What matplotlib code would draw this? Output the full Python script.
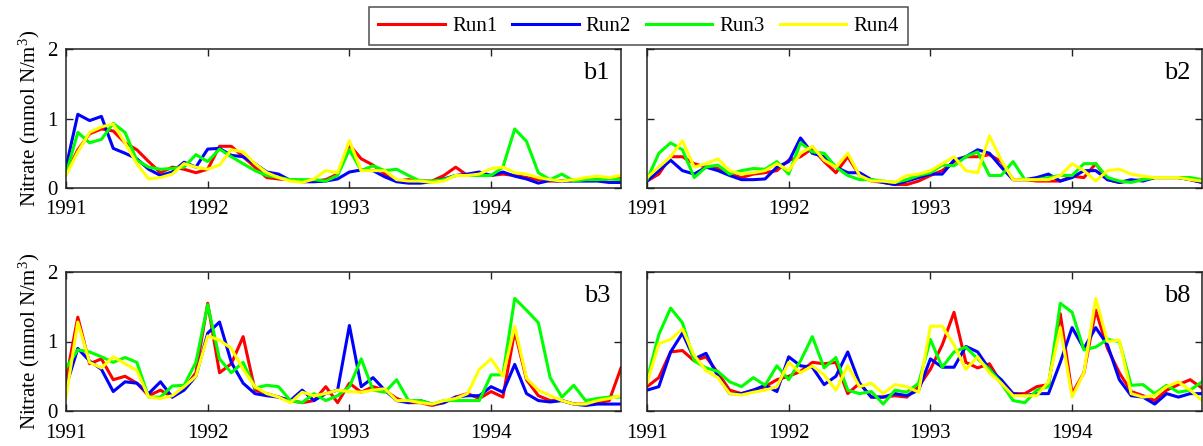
import matplotlib
matplotlib.use('Agg')
import matplotlib.pyplot as plt
import numpy as np

plt.rcParams['font.family'] = ['Liberation Serif', 'DejaVu Serif']
plt.rcParams['mathtext.fontset'] = 'custom'
plt.rcParams['mathtext.rm'] = 'Liberation Serif'
plt.rcParams['mathtext.it'] = 'Liberation Serif:italic'
plt.rcParams['font.size'] = 15

# monthly values, Jan 1991 - Dec 1994
years = [1991, 1992, 1993, 1994]
runs = ['Run1', 'Run2', 'Run3', 'Run4']
colors = ['#ff0000', '#0000ff', '#00ff00', '#ffff00']

b1_run1 = [0.2, 0.55, 0.78, 0.85, 0.82, 0.65, 0.55, 0.38, 0.22, 0.3, 0.27, 0.22,
           0.27, 0.6, 0.6, 0.45, 0.3, 0.15, 0.13, 0.12, 0.1, 0.1, 0.12, 0.2,
           0.62, 0.42, 0.33, 0.2, 0.1, 0.12, 0.1, 0.1, 0.18, 0.3, 0.18, 0.18,
           0.18, 0.2, 0.18, 0.15, 0.12, 0.1, 0.1, 0.12, 0.12, 0.12, 0.15, 0.15]
b1_run2 = [0.3, 1.06, 0.97, 1.03, 0.57, 0.5, 0.42, 0.27, 0.18, 0.23, 0.37, 0.3,
           0.56, 0.57, 0.47, 0.45, 0.35, 0.23, 0.2, 0.11, 0.09, 0.09, 0.1, 0.13,
           0.23, 0.26, 0.25, 0.16, 0.09, 0.07, 0.07, 0.09, 0.13, 0.18, 0.2, 0.23,
           0.18, 0.23, 0.17, 0.13, 0.07, 0.11, 0.1, 0.1, 0.1, 0.1, 0.08, 0.08]
b1_run3 = [0.2, 0.8, 0.65, 0.7, 0.93, 0.8, 0.4, 0.3, 0.27, 0.28, 0.3, 0.48,
           0.38, 0.56, 0.45, 0.35, 0.25, 0.18, 0.15, 0.12, 0.12, 0.12, 0.1, 0.18,
           0.55, 0.25, 0.32, 0.25, 0.27, 0.18, 0.1, 0.1, 0.12, 0.18, 0.18, 0.18,
           0.18, 0.3, 0.85, 0.67, 0.22, 0.12, 0.2, 0.1, 0.12, 0.12, 0.13, 0.12]
b1_run4 = [0.18, 0.52, 0.8, 0.88, 0.92, 0.65, 0.35, 0.13, 0.15, 0.2, 0.35, 0.3,
           0.27, 0.33, 0.55, 0.52, 0.35, 0.22, 0.15, 0.1, 0.08, 0.13, 0.25, 0.22,
           0.68, 0.25, 0.25, 0.25, 0.12, 0.1, 0.1, 0.08, 0.1, 0.18, 0.18, 0.2,
           0.28, 0.3, 0.22, 0.2, 0.15, 0.12, 0.1, 0.12, 0.15, 0.17, 0.15, 0.18]

b2_run1 = [0.1, 0.2, 0.45, 0.45, 0.35, 0.3, 0.28, 0.2, 0.15, 0.2, 0.22, 0.25,
           0.4, 0.45, 0.57, 0.38, 0.22, 0.45, 0.18, 0.1, 0.08, 0.05, 0.05, 0.1,
           0.18, 0.25, 0.38, 0.45, 0.45, 0.48, 0.38, 0.12, 0.12, 0.1, 0.1, 0.1,
           0.17, 0.15, 0.35, 0.12, 0.08, 0.1, 0.12, 0.15, 0.15, 0.15, 0.12, 0.08]
b2_run2 = [0.1, 0.25, 0.4, 0.25, 0.2, 0.3, 0.25, 0.18, 0.12, 0.12, 0.13, 0.3,
           0.38, 0.72, 0.5, 0.45, 0.3, 0.22, 0.22, 0.12, 0.08, 0.05, 0.1, 0.15,
           0.2, 0.2, 0.4, 0.45, 0.55, 0.5, 0.3, 0.12, 0.12, 0.15, 0.2, 0.1,
           0.15, 0.25, 0.25, 0.12, 0.08, 0.12, 0.1, 0.15, 0.15, 0.15, 0.12, 0.08]
b2_run3 = [0.12, 0.5, 0.65, 0.55, 0.15, 0.3, 0.33, 0.2, 0.25, 0.28, 0.27, 0.38,
           0.2, 0.65, 0.52, 0.5, 0.3, 0.18, 0.12, 0.12, 0.1, 0.08, 0.12, 0.18,
           0.22, 0.33, 0.32, 0.45, 0.52, 0.18, 0.18, 0.38, 0.12, 0.12, 0.15, 0.18,
           0.18, 0.35, 0.35, 0.15, 0.1, 0.08, 0.12, 0.15, 0.15, 0.15, 0.15, 0.12]
b2_run4 = [0.15, 0.3, 0.45, 0.68, 0.3, 0.35, 0.42, 0.25, 0.2, 0.22, 0.25, 0.35,
           0.25, 0.5, 0.6, 0.4, 0.3, 0.5, 0.18, 0.1, 0.1, 0.08, 0.18, 0.2,
           0.25, 0.35, 0.45, 0.25, 0.22, 0.75, 0.4, 0.12, 0.12, 0.12, 0.12, 0.18,
           0.35, 0.25, 0.1, 0.25, 0.27, 0.2, 0.17, 0.15, 0.15, 0.15, 0.12, 0.1]

b3_run1 = [0.45, 1.35, 0.68, 0.75, 0.45, 0.5, 0.4, 0.22, 0.3, 0.2, 0.32, 0.55,
           1.55, 0.55, 0.68, 1.07, 0.3, 0.25, 0.2, 0.15, 0.12, 0.15, 0.35, 0.12,
           0.4, 0.27, 0.35, 0.3, 0.18, 0.12, 0.12, 0.08, 0.12, 0.2, 0.25, 0.18,
           0.28, 0.2, 1.15, 0.45, 0.22, 0.15, 0.15, 0.1, 0.1, 0.12, 0.15, 0.62]
b3_run2 = [0.35, 0.9, 0.72, 0.6, 0.28, 0.42, 0.4, 0.25, 0.42, 0.2, 0.3, 0.5,
           1.12, 1.28, 0.7, 0.4, 0.25, 0.22, 0.2, 0.15, 0.3, 0.15, 0.25, 0.3,
           1.23, 0.35, 0.48, 0.3, 0.15, 0.12, 0.15, 0.1, 0.12, 0.2, 0.22, 0.22,
           0.35, 0.27, 0.67, 0.25, 0.15, 0.13, 0.15, 0.1, 0.08, 0.1, 0.1, 0.1]
b3_run3 = [0.62, 0.88, 0.85, 0.78, 0.7, 0.77, 0.7, 0.2, 0.2, 0.36, 0.37, 0.7,
           1.53, 0.75, 0.55, 0.7, 0.33, 0.37, 0.35, 0.15, 0.12, 0.25, 0.15, 0.22,
           0.35, 0.75, 0.3, 0.27, 0.45, 0.15, 0.15, 0.1, 0.15, 0.15, 0.15, 0.15,
           0.52, 0.52, 1.62, 1.45, 1.27, 0.48, 0.2, 0.37, 0.15, 0.18, 0.2, 0.2]
b3_run4 = [0.2, 1.28, 0.7, 0.62, 0.78, 0.68, 0.58, 0.2, 0.18, 0.22, 0.35, 0.5,
           1.08, 1.02, 0.9, 0.6, 0.35, 0.25, 0.2, 0.12, 0.27, 0.22, 0.25, 0.3,
           0.28, 0.27, 0.3, 0.32, 0.15, 0.15, 0.12, 0.1, 0.15, 0.18, 0.25, 0.6,
           0.75, 0.5, 1.22, 0.47, 0.3, 0.22, 0.15, 0.1, 0.1, 0.15, 0.18, 0.22]

b8_run1 = [0.35, 0.48, 0.85, 0.87, 0.72, 0.78, 0.55, 0.3, 0.25, 0.3, 0.35, 0.45,
           0.5, 0.57, 0.7, 0.68, 0.7, 0.25, 0.4, 0.2, 0.2, 0.22, 0.2, 0.35,
           0.6, 0.95, 1.42, 0.7, 0.62, 0.68, 0.4, 0.25, 0.25, 0.35, 0.38, 1.4,
           0.25, 0.55, 1.45, 0.9, 0.55, 0.28, 0.22, 0.15, 0.3, 0.38, 0.45, 0.33]
b8_run2 = [0.3, 0.35, 0.85, 1.12, 0.75, 0.83, 0.5, 0.25, 0.25, 0.3, 0.37, 0.28,
           0.78, 0.65, 0.63, 0.38, 0.5, 0.85, 0.4, 0.2, 0.2, 0.25, 0.22, 0.3,
           0.75, 0.63, 0.63, 0.93, 0.85, 0.6, 0.45, 0.25, 0.22, 0.25, 0.25, 0.7,
           1.2, 0.9, 1.2, 0.95, 0.45, 0.22, 0.2, 0.1, 0.25, 0.2, 0.25, 0.25]
b8_run3 = [0.45, 1.1, 1.48, 1.27, 0.72, 0.62, 0.57, 0.42, 0.35, 0.48, 0.37, 0.65,
           0.45, 0.72, 1.07, 0.62, 0.77, 0.3, 0.25, 0.28, 0.1, 0.3, 0.27, 0.4,
           1.03, 0.63, 0.85, 0.92, 0.75, 0.6, 0.4, 0.15, 0.12, 0.3, 0.35, 1.55,
           1.42, 0.88, 0.92, 1.03, 1.0, 0.37, 0.38, 0.25, 0.37, 0.27, 0.3, 0.42]
b8_run4 = [0.4, 0.97, 1.03, 1.18, 0.8, 0.58, 0.48, 0.25, 0.23, 0.27, 0.3, 0.35,
           0.7, 0.55, 0.65, 0.52, 0.3, 0.65, 0.35, 0.4, 0.25, 0.38, 0.35, 0.27,
           1.22, 1.22, 0.95, 0.6, 0.78, 0.55, 0.4, 0.22, 0.22, 0.22, 0.42, 1.2,
           0.2, 0.55, 1.62, 1.0, 1.02, 0.25, 0.2, 0.22, 0.35, 0.42, 0.3, 0.15]

panels = {
    'b1': [b1_run1, b1_run2, b1_run3, b1_run4],
    'b2': [b2_run1, b2_run2, b2_run3, b2_run4],
    'b3': [b3_run1, b3_run2, b3_run3, b3_run4],
    'b8': [b8_run1, b8_run2, b8_run3, b8_run4],
}

t = 1991 + np.arange(48) / 12.0

W, H = 1203, 446
fig = plt.figure(figsize=(W / 100, H / 100), dpi=100)

# axes boxes in pixels: left, top, right, bottom
boxes = {
    'b1': (66, 49, 621, 188),
    'b2': (647, 49, 1202, 188),
    'b3': (66, 272, 621, 411),
    'b8': (647, 272, 1202, 411),
}

lines = []
for name, series in panels.items():
    l, tp, r, b = boxes[name]
    ax = fig.add_axes([l / W, 1 - b / H, (r - l) / W, (b - tp) / H])
    for vals, c, lab in zip(series, colors, runs):
        ln, = ax.plot(t, vals, color=c, lw=2.2, label=lab)
        if name == 'b1':
            lines.append(ln)
    ax.set_xlim(1991, t[-1])
    ax.set_ylim(0, 2)
    ax.set_xticks(years)
    ax.set_xticklabels([str(y) for y in years])
    ax.set_yticks([0, 1, 2])
    ax.tick_params(direction='in', top=True, right=True, length=5, width=1,
                   color='#222222', labelsize=15)
    ax.tick_params(axis='x', pad=9)
    ax.tick_params(axis='y', pad=6)
    for s in ax.spines.values():
        s.set_color('#222222')
        s.set_linewidth(1.1)
    if name in ('b1', 'b3'):
        ax.set_ylabel('Nitrate (mmol N/m$^3$)', fontsize=15, labelpad=4)
    else:
        ax.set_yticklabels([])
    ax.text(0.98, 0.83, name, transform=ax.transAxes, ha='right', va='center',
            fontsize=19)

leg = fig.legend(lines, runs, loc='upper center', bbox_to_anchor=(638.5 / W, 1 - 7 / H),
                 ncol=4, frameon=True, fancybox=False, edgecolor='#222222',
                 handlelength=3.2, handletextpad=0.35, columnspacing=0.7,
                 borderpad=0.45, borderaxespad=0.0, fontsize=15)
leg.get_frame().set_linewidth(1.1)

fig.savefig('out.png', dpi=100)
